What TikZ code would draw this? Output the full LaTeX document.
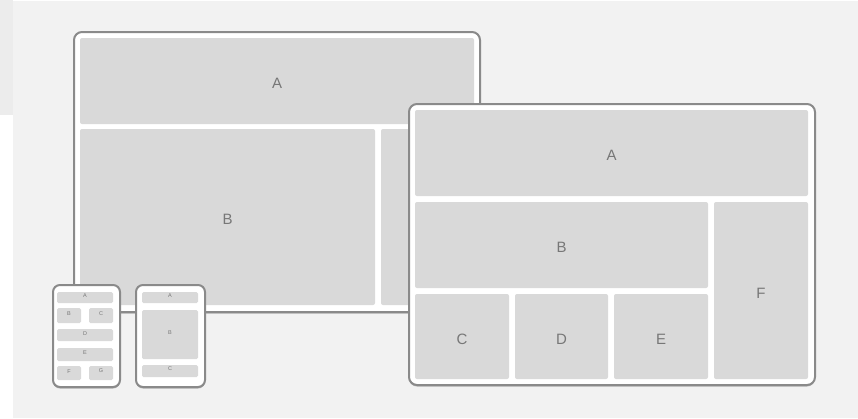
\documentclass[tikz,border=0pt]{standalone}
\usepackage{fontspec}
\setmainfont{Liberation Sans}
\usetikzlibrary{fit,shadows}
\definecolor{bgc}{HTML}{F2F2F2}
\definecolor{stripc}{HTML}{ECECEC}
\definecolor{panelc}{HTML}{D9D9D9}
\definecolor{framec}{HTML}{8A8A8A}
\definecolor{txtc}{HTML}{777777}
\tikzset{
  device/.style={draw=framec, line width=2pt, fill=white, rounded corners=8pt, inner sep=0pt,
    drop shadow={shadow xshift=0pt, shadow yshift=-1.5pt, fill=framec, opacity=0.6}},
  phone/.style={device, rounded corners=7pt},
  panel/.style={fill=panelc, draw=none, rounded corners=2pt, inner sep=0pt},
  lbl/.style={text=txtc, font=\fontsize{15}{15}\selectfont, inner sep=0pt, yshift=-2.75pt},
  mini/.style={panel, rounded corners=1.5pt, text=txtc, font=\fontsize{5.5}{5.5}\selectfont}
}
\begin{document}
\begin{tikzpicture}[x=1pt,y=-1pt]
\useasboundingbox (0,0) rectangle (858,418);
\fill[white] (0,0) rectangle (858,418);
\fill[bgc] (13,1) rectangle (858,418);
\fill[stripc] (0,0) rectangle (13,115);
% monitor
\node[device, fit={(74,32) (480,312)}] (mon) {};
\node[panel, fit={(80,38) (474,124)}, label={[lbl]center:A}] (monA) {};
\node[panel, fit={(80,129) (375,305)}, label={[lbl]center:B}] (monB) {};
\node[panel, fit={(381,129) (474,305)}] (monC) {};
% phone 1
\node[phone, fit={(53,285) (120,387)}] (ph1) {};
\node[mini, fit={(57,292) (113,303)}] (p1A) {A};
\node[mini, fit={(57,308) (81,323)}] (p1B) {B};
\node[mini, fit={(89,308) (113,323)}] (p1C) {C};
\node[mini, fit={(57,329) (113,341)}] (p1D) {D};
\node[mini, fit={(57,348) (113,361)}] (p1E) {E};
\node[mini, fit={(57,366) (81,380)}] (p1F) {F};
\node[mini, fit={(89,366) (113,380)}] (p1G) {G};
% phone 2
\node[phone, fit={(136,285) (205,387)}] (ph2) {};
\node[mini, fit={(142,292) (198,303)}] (p2A) {A};
\node[mini, fit={(142,310) (198,359)}] (p2B) {B};
\node[mini, fit={(142,365) (198,377)}] (p2C) {C};
% tablet
\node[device, fit={(409,104) (815,385)}] (tab) {};
\node[panel, fit={(415,110) (808,196)}, label={[lbl]center:A}] (tA) {};
\node[panel, fit={(415,202) (708,288)}, label={[lbl]center:B}] (tB) {};
\node[panel, fit={(415,294) (509,379)}, label={[lbl]center:C}] (tC) {};
\node[panel, fit={(515,294) (608,379)}, label={[lbl]center:D}] (tD) {};
\node[panel, fit={(614,294) (708,379)}, label={[lbl]center:E}] (tE) {};
\node[panel, fit={(714,202) (808,379)}, label={[lbl]center:F}] (tF) {};
\end{tikzpicture}
\end{document}
